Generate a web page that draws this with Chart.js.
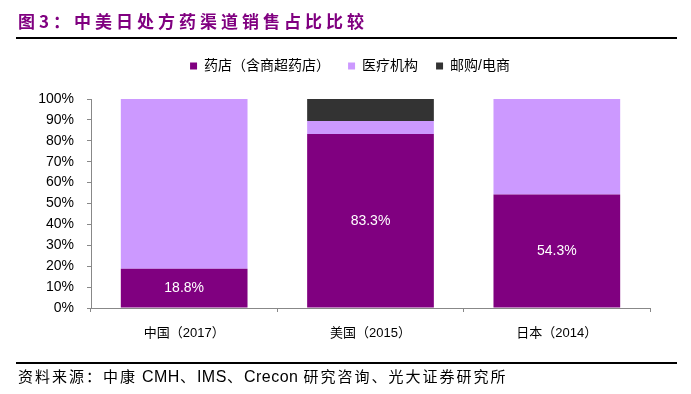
<!DOCTYPE html>
<html>
<head>
<meta charset="utf-8">
<script src="https://cdn.jsdelivr.net/npm/chart.js@4.4.1/dist/chart.umd.min.js"></script>
<style>
  html, body { margin: 0; padding: 0; background: #fff; }
  #wrap { position: relative; width: 691px; height: 394px; overflow: hidden; }
  #myChart { position: absolute; left: 0; top: 0; }
  .title {
    position: absolute; left: 18px; top: 9px;
    font: bold 17px "Noto Sans CJK SC", sans-serif; letter-spacing: 4px;
    color: #800080; line-height: 24px; white-space: nowrap;
  }
  .rule { position: absolute; left: 16px; width: 661px; height: 2px; background: #000; }
  .source {
    position: absolute; left: 18px; top: 366px;
    font: 15px "Noto Sans CJK SC", sans-serif; letter-spacing: 2px;
    color: #000; line-height: 20px; white-space: nowrap;
  }
  .source .lat { font: 16px "Liberation Sans", sans-serif; letter-spacing: 0.5px; }
</style>
</head>
<body>
<div id="wrap">
  <canvas id="myChart" width="691" height="394"></canvas>
  <div class="title">图3：中美日处方药渠道销售占比比较</div>
  <div class="rule" style="top:37px"></div>
  <div class="rule" style="top:362px"></div>
  <div class="source">资料来源：中康<span class="lat"> CMH</span>、<span class="lat">IMS</span>、<span class="lat">Crecon </span>研究咨询、光大证券研究所</div>
</div>
<script>
// data
const categories = ['中国（2017）', '美国（2015）', '日本（2014）'];
const seriesNames = ['药店（含商超药店）', '医疗机构', '邮购/电商'];
const pharmacy = [18.8, 83.3, 54.3];
const hospital = [81.2, 6.2, 45.7];
const mailOrder = [0, 10.5, 0];
const yTicks = [0, 10, 20, 30, 40, 50, 60, 70, 80, 90, 100];

const colors = ['#800080', '#CC99FF', '#333333'];

Chart.defaults.font.family = '"Liberation Sans", "Noto Sans CJK SC", sans-serif';
Chart.defaults.color = '#000';

// white value labels in the pharmacy segment
const valueLabels = {
    id: 'valueLabels',
    afterDatasetsDraw(chart) {
        const ctx = chart.ctx;
        const meta = chart.getDatasetMeta(0);
        ctx.save();
        ctx.fillStyle = '#fff';
        ctx.font = '14px "Liberation Sans", sans-serif';
        ctx.textAlign = 'center';
        ctx.textBaseline = 'middle';
        meta.data.forEach((bar, i) => {
            ctx.fillText(pharmacy[i].toFixed(1) + '%', bar.x, (bar.y + bar.base) / 2);
        });
        ctx.restore();
    }
};

// fixed legend height, legend nudged right like the original
const legendTweak = {
    id: 'legendTweak',
    beforeInit(chart) {
        const fit = chart.legend.fit;
        chart.legend.fit = function () {
            fit.bind(chart.legend)();
            this.height = 58;
        };
    },
    afterLayout(chart) {
        chart.legend.left += 25;
        chart.legend.right += 25;
    }
};

const ctx = document.getElementById('myChart').getContext('2d');
const myChart = new Chart(ctx, {
    type: 'bar',
    data: {
        labels: categories,
        datasets: [
            { label: seriesNames[0], data: pharmacy, backgroundColor: colors[0] },
            { label: seriesNames[1], data: hospital, backgroundColor: colors[1] },
            { label: seriesNames[2], data: mailOrder, backgroundColor: colors[2] }
        ]
    },
    options: {
        responsive: false,
        animation: false,
        layout: { padding: { top: 41, right: 41, bottom: 46, left: 0 } },
        datasets: { bar: { barPercentage: 0.68, categoryPercentage: 1 } },
        plugins: {
            legend: {
                position: 'top',
                labels: {
                    boxWidth: 7,
                    boxHeight: 7,
                    padding: 18,
                    font: { size: 14 }
                }
            },
            tooltip: { enabled: false }
        },
        scales: {
            x: {
                stacked: true,
                afterFit(scale) { scale.height = 40; },
                grid: { offset: true, drawOnChartArea: false, tickLength: 4, color: '#888' },
                border: { color: '#888', width: 1 },
                ticks: { padding: 14, font: { size: 13 } }
            },
            y: {
                stacked: true,
                min: 0,
                max: 100,
                afterFit(scale) { scale.width = 91; },
                afterBuildTicks(scale) { scale.ticks = yTicks.map(v => ({ value: v })); },
                grid: { drawOnChartArea: false, tickLength: 4, color: '#888' },
                border: { color: '#888', width: 1 },
                ticks: { padding: 13, font: { size: 14 }, callback: v => v + '%' }
            }
        }
    },
    plugins: [valueLabels, legendTweak]
});
</script>
</body>
</html>
